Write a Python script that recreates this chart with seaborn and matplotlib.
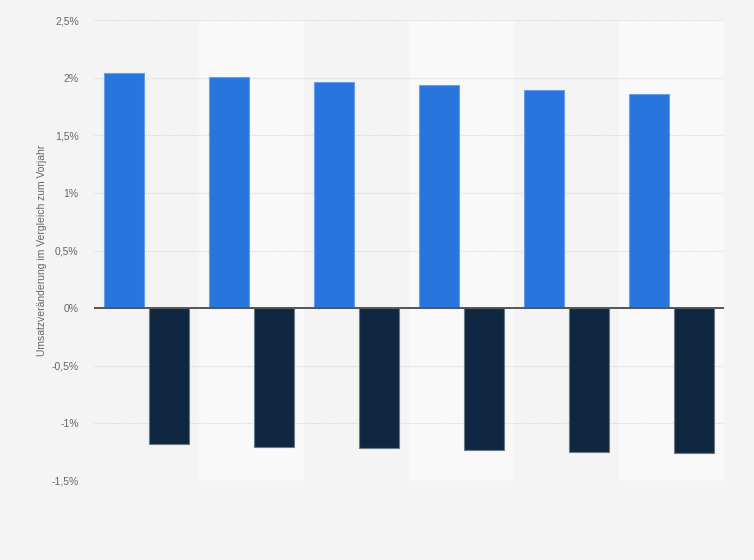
import pandas as pd
import matplotlib.pyplot as plt
import seaborn as sns
from matplotlib.ticker import FuncFormatter

# data
kategorien = ['1', '2', '3', '4', '5', '6']
serie_a = [2.04, 2.005, 1.965, 1.935, 1.895, 1.855]
serie_b = [-1.18, -1.205, -1.215, -1.235, -1.245, -1.26]
y_ticks = [-1.5, -1, -0.5, 0, 0.5, 1, 1.5, 2, 2.5]

df = pd.DataFrame({
    'Kategorie': kategorien * 2,
    'Wert': serie_a + serie_b,
    'Serie': ['A'] * len(kategorien) + ['B'] * len(kategorien),
})

sns.set_theme(style='white')
plt.rcParams['font.family'] = ['Liberation Sans', 'DejaVu Sans']

fig = plt.figure(figsize=(7.54, 5.6), dpi=100)
fig.patch.set_facecolor('#f4f4f4')
ax = fig.add_axes([94 / 754, 79 / 560, 630 / 754, 461 / 560])
ax.set_facecolor('#f4f4f4')

sns.barplot(data=df, x='Kategorie', y='Wert', hue='Serie',
            palette={'A': '#2876dd', 'B': '#0f2740'}, saturation=1,
            width=0.85, gap=0.1, ax=ax, legend=False, zorder=3)

# Balkenränder
for cont, farbe in zip(ax.containers, ['#6a9fe8', '#6b7886']):
    for bar in cont:
        bar.set_edgecolor(farbe)
        bar.set_linewidth(0.8)

# abwechselnde Hintergrundstreifen
for i in range(len(kategorien)):
    if i % 2 == 1:
        ax.axvspan(i - 0.5, i + 0.5, facecolor='#f9f9f9', edgecolor='none',
                   zorder=0, lw=0)

ax.set_xlim(-0.5, len(kategorien) - 0.5)
ax.set_ylim(-1.5, 2.5)
ax.set_yticks(y_ticks)
ax.yaxis.set_major_formatter(FuncFormatter(
    lambda v, p: ('%g' % v).replace('.', ',') + '%'))
ax.tick_params(axis='y', length=0, pad=11, labelsize=7.5, labelcolor='#666666')
ax.set_xticks([])
ax.set_xlabel('')
ax.set_ylabel('Umsatzveränderung im Vergleich zum Vorjahr',
              fontsize=7.5, color='#666666', labelpad=3)

ax.grid(axis='y', color='#d8d8d8', linestyle=(0, (1, 1)), linewidth=0.8, zorder=1)
ax.axhline(0, color='#555555', linewidth=1.4, zorder=4)
for s in ax.spines.values():
    s.set_visible(False)

fig.savefig('out.png', dpi=100, facecolor=fig.get_facecolor())
